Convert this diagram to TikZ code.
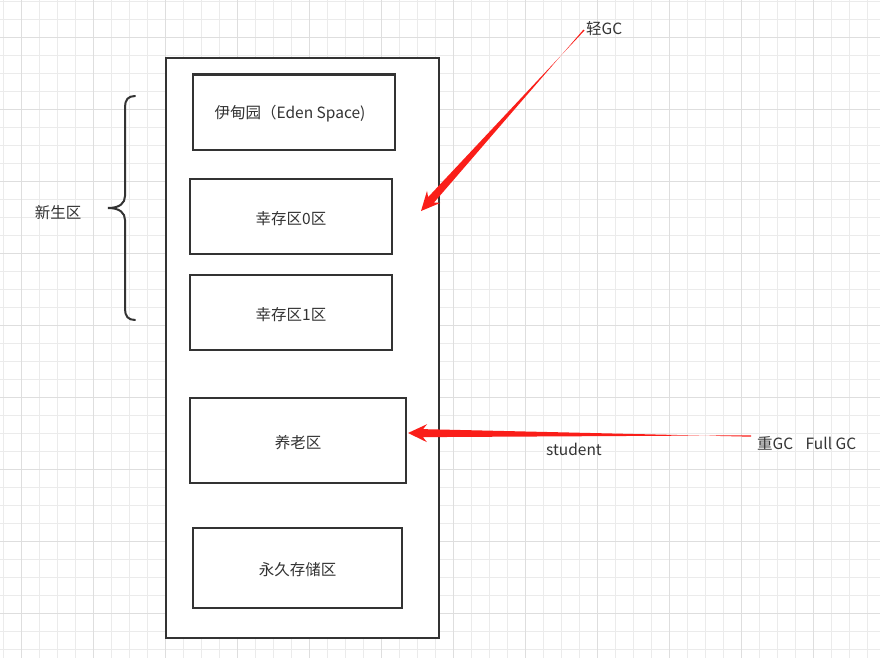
\documentclass[tikz,border=0pt]{standalone}
\usepackage{fontspec}
\setmainfont{Noto Sans CJK SC}
\usetikzlibrary{calc}
\definecolor{gridminor}{HTML}{EBEBEB}
\definecolor{gridmajor}{HTML}{DEDEDE}
\definecolor{ink}{HTML}{333333}
\definecolor{arrowred}{HTML}{FA1E19}
\tikzset{
  region/.style={draw=ink, line width=2.3pt, fill=white, inner sep=0pt},
  lbl/.style={text=ink, font=\fontsize{15.5}{18}\selectfont, inner sep=0pt, yshift=-1.8pt},
  taper/.style={fill=arrowred, draw=none},
}
\newcommand{\taperarrow}[2]{%
  \coordinate (hb) at ($(#2)!19pt!(#1)$);
  \coordinate (nb) at ($(#2)!15pt!(#1)$);
  \fill[taper] ($(#1)!0.7pt!90:(#2)$) -- ($(nb)!4pt!-90:(#2)$) -- ($(hb)!9pt!-90:(#2)$) -- (#2)
     -- ($(hb)!9pt!90:(#2)$) -- ($(nb)!4pt!90:(#2)$) -- ($(#1)!0.7pt!-90:(#2)$) -- cycle;
}
\begin{document}
\begin{tikzpicture}[x=1pt,y=-1pt]
\useasboundingbox (0,0) rectangle (880,658);
\fill[white] (0,0) rectangle (880,658);
% grid
\foreach \gx in {3.7,21.7,...,880} \draw[gridminor, line width=1pt] (\gx,0) -- (\gx,658);
\foreach \gy in {1.7,19.7,...,658} \draw[gridminor, line width=1pt] (0,\gy) -- (880,\gy);
\foreach \gx in {21.7,93.7,...,880} \draw[gridmajor, line width=1pt] (\gx,0) -- (\gx,658);
\foreach \gy in {37.7,109.7,...,658} \draw[gridmajor, line width=1pt] (0,\gy) -- (880,\gy);

% outer heap
\draw[region] (166,58) rectangle (439,638);
\draw[region] (193,74.5) rectangle (395,150);
\node[lbl] (eden) at (290,112) {伊甸园（Eden Space)};
\path[region] (190,179) rectangle node[lbl] (s0) {幸存区0区} (392,254);
\path[region] (190,275) rectangle node[lbl] (s1) {幸存区1区} (392,350);
\path[region] (190,398) rectangle node[lbl] (old) {养老区} (406,483);
\path[region] (193,528) rectangle node[lbl] (perm) {永久存储区} (402,608);

% brace
\draw[ink, line width=2pt, line cap=round]
  (135,96) .. controls (128,96) and (125,100) .. (125,107) -- (125,196)
  .. controls (125,203) and (120,208) .. (108,208)
  .. controls (120,208) and (125,213) .. (125,220) -- (125,309)
  .. controls (125,316) and (128,320) .. (135,320);
\node[lbl] (young) at (58,211) {新生区};

% labels
\node[lbl, anchor=west] (minor) at (586,27) {轻GC};
\node[lbl, anchor=west] (full) at (757,442) {重GC\hspace{0.8em}Full GC};
\node[lbl] (stu) at (574,448) {student};

% arrows
\coordinate (a1s) at (584,30);
\coordinate (a1e) at (421,211);
\taperarrow{a1s}{a1e}
\coordinate (a2s) at (751,436);
\coordinate (a2e) at (408,433);
\taperarrow{a2s}{a2e}
\end{tikzpicture}
\end{document}
